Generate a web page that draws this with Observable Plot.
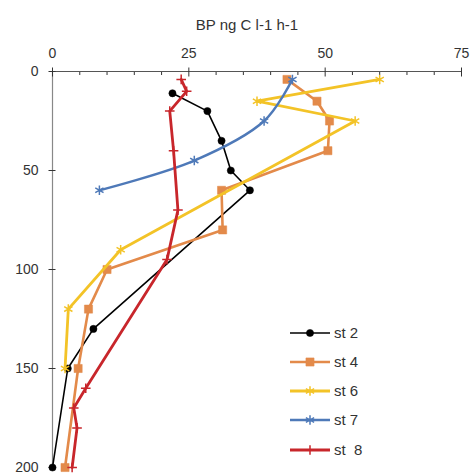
<!DOCTYPE html>
<html>
<head>
<meta charset="utf-8">
<script src="https://cdn.jsdelivr.net/npm/d3@7"></script>
<script src="https://cdn.jsdelivr.net/npm/@observablehq/plot@0.6"></script>
<style>
  html, body { margin: 0; padding: 0; background: #fff; overflow: hidden; }
  #wrap { position: relative; width: 472px; height: 475px; }
  #wrap svg { position: absolute; left: 0; top: 0; }
</style>
</head>
<body>
<div id="wrap"></div>
<script>
const title = "BP ng C l-1 h-1";
const majorX = [0, 25, 50, 75];
const minorX = [5, 10, 15, 20, 30, 35, 40, 45, 55, 60, 65, 70];
const depthTicks = [0, 50, 100, 150, 200];

const seriesNames = ["st 2", "st 4", "st 6", "st 7", "st  8"];

const st2Depth = [11, 20, 35, 50, 60, 130, 150, 200];
const st2Value = [22, 28.4, 31, 32.7, 36.2, 7.5, 2.8, 0];

const st4Depth = [4, 15, 25, 40, 60, 80, 100, 120, 150, 200];
const st4Value = [43, 48.5, 50.8, 50.5, 31, 31.2, 10, 6.6, 4.7, 2.3];

const st6Depth = [4, 15, 25, 90, 120, 150];
const st6Value = [60, 37.5, 55.5, 12.5, 2.9, 2.3];

const st7Depth = [4, 25, 45, 60];
const st7Value = [44, 38.8, 26, 8.6];

const st8Depth = [4, 10, 20, 40, 70, 95, 160, 170, 180, 200];
const st8Value = [23.6, 24.6, 21.5, 22.2, 23, 21, 6.1, 3.9, 4.5, 3.6];

const styles = [
  {color: "#000000", width: 1.6, symbol: "circle", r: 3.6, fill: true, curve: "linear"},
  {color: "#E38A4A", width: 2.6, symbol: "square", r: 4.6, fill: true, curve: "linear"},
  {color: "#F3C327", width: 2.8, symbol: "asterisk", r: 4.5, fill: false, curve: "linear"},
  {color: "#4E79B8", width: 2.4, symbol: "asterisk", r: 4.5, fill: false, curve: "catmull-rom"},
  {color: "#C8262B", width: 2.8, symbol: "plus", r: 3.2, fill: false, curve: "linear"}
];

const depths = [st2Depth, st4Depth, st6Depth, st7Depth, st8Depth];
const values = [st2Value, st4Value, st6Value, st7Value, st8Value];
const series = seriesNames.map((name, i) => ({
  name, style: styles[i],
  data: depths[i].map((d, j) => ({depth: d, value: values[i][j]}))
}));

const marks = [];
marks.push(Plot.ruleY([0], {stroke: "#555", strokeWidth: 1.2}));
marks.push(Plot.ruleX([0], {stroke: "#888", strokeWidth: 1.2}));
marks.push(Plot.axisX({anchor: "top", ticks: minorX, tickSize: 3, dy: 3, tickFormat: () => "", label: null, stroke: "#333"}));
marks.push(Plot.axisX({anchor: "top", ticks: majorX, tickSize: 9, dy: 4.5, tickFormat: () => "", label: null, stroke: "#333"}));
marks.push(Plot.axisX({anchor: "top", ticks: majorX, tickSize: 0, tickPadding: 14, label: null, fontSize: 14, fill: "#333"}));
marks.push(Plot.axisY({anchor: "left", ticks: depthTicks, tickSize: 7, dx: 3.5, tickFormat: () => "", label: null, stroke: "#333"}));
marks.push(Plot.axisY({anchor: "left", ticks: depthTicks, tickSize: 0, tickPadding: 14, label: null, fontSize: 14, fill: "#333"}));
marks.push(Plot.text([title], {frameAnchor: "top", dy: -52, dx: -10, fontSize: 15, fill: "#333"}));

for (const s of series) {
  const st = s.style;
  marks.push(Plot.line(s.data, {x: "value", y: "depth", stroke: st.color, strokeWidth: st.width, curve: st.curve}));
  marks.push(Plot.dot(s.data, {
    x: "value", y: "depth", symbol: () => st.symbol, r: st.r,
    fill: st.fill ? st.color : "none",
    stroke: st.color, strokeWidth: st.fill ? 0.5 : 1.5
  }));
}

const chart = Plot.plot({
  width: 472,
  height: 475,
  marginTop: 71,
  marginLeft: 52,
  marginRight: 11,
  marginBottom: 8,
  style: {fontFamily: "Liberation Sans, Arial, sans-serif", background: "#fff"},
  x: {domain: [0, 75], axis: null},
  y: {domain: [0, 200], reverse: true, axis: null},
  symbol: {type: "identity"},
  marks
});
document.getElementById("wrap").appendChild(chart);

const rowY = [333, 362, 391, 420, 450];
const leg = d3.select("#wrap").append("svg")
  .attr("width", 472).attr("height", 475)
  .style("pointer-events", "none")
  .style("font-family", "Liberation Sans, Arial, sans-serif");
series.forEach((s, i) => {
  const st = s.style;
  const g = leg.append("g").attr("transform", `translate(0,${rowY[i]})`);
  g.append("line").attr("x1", 290).attr("x2", 330).attr("y1", 0).attr("y2", 0)
    .attr("stroke", st.color).attr("stroke-width", st.width);
  const sym = d3.symbol().type({
    circle: d3.symbolCircle, square: d3.symbolSquare, asterisk: d3.symbolAsterisk, plus: d3.symbolPlus
  }[st.symbol]).size(Math.PI * st.r * st.r);
  g.append("path").attr("d", sym()).attr("transform", "translate(310,0)")
    .attr("fill", st.fill ? st.color : "none").attr("stroke", st.color)
    .attr("stroke-width", st.fill ? 0.5 : 1.5);
  g.append("text").attr("x", 334).attr("y", 0).attr("dy", "0.35em")
    .attr("font-size", 15).attr("fill", "#333")
    .style("white-space", "pre").text(s.name);
});
</script>
</body>
</html>
